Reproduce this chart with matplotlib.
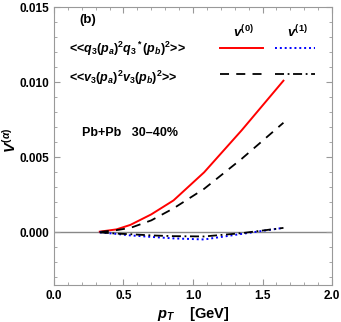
import matplotlib.pyplot as plt
from matplotlib.ticker import MultipleLocator

plt.rcParams['font.family'] = ['Liberation Sans', 'DejaVu Sans']
plt.rcParams['font.weight'] = 'bold'
plt.rcParams['axes.labelweight'] = 'bold'
plt.rcParams['mathtext.fontset'] = 'custom'
plt.rcParams['mathtext.it'] = 'Liberation Sans:italic:bold'
plt.rcParams['mathtext.rm'] = 'Liberation Sans:bold'
plt.rcParams['mathtext.bf'] = 'Liberation Sans:bold'

# pT points (GeV)
pt = [0.33, 0.45, 0.55, 0.70, 0.86, 1.08, 1.35, 1.65]
# <<q3^2 q3*^2>>, V(0) and V(1)
q_v0 = [0.00005, 0.0002, 0.0005, 0.0012, 0.00213, 0.0040, 0.0068, 0.0101]
q_v1 = [0.0, -0.0001, -0.0002, -0.0003, -0.0004, -0.00047, -0.0001, 0.0003]
# <<v3^2 v3^2>>, V(0) and V(1)
v_v0 = [0.00003, 0.00015, 0.0003, 0.0008, 0.0016, 0.0029, 0.0049, 0.0073]
v_v1 = [0.0, -0.00008, -0.00012, -0.0002, -0.00025, -0.00027, -0.00005, 0.0003]

fig = plt.figure(figsize=(3.41, 3.22), dpi=100)
ax = fig.add_axes([0.158, 0.115, 0.816, 0.863])

ax.axhline(0, color='#888888', lw=1.0, zorder=1)
ax.plot(pt, q_v0, color='red', lw=1.4)
ax.plot(pt, v_v0, color='black', lw=1.3, dashes=(5, 4))
ax.plot(pt, q_v1, color='blue', lw=1.4, ls=(0, (1, 1.5)))
ax.plot(pt, v_v1, color='black', lw=1.3, ls=(0, (5, 2, 1, 2)))

ax.set_xlim(0, 2.0)
ax.set_ylim(-0.0035, 0.015)
ax.xaxis.set_minor_locator(MultipleLocator(0.1))
ax.yaxis.set_minor_locator(MultipleLocator(0.001))
ax.set_xticks([0.0, 0.5, 1.0, 1.5, 2.0])
ax.set_xticklabels(['0.0', '0.5', '1.0', '1.5', '2.0'])
ax.set_yticks([0.0, 0.005, 0.010, 0.015])
ax.set_yticklabels(['0.000', '0.005', '0.010', '0.015'])
ax.tick_params(which='both', direction='in', top=True, right=True,
               color='#999999', labelsize=8.5)
ax.tick_params(which='major', length=4)
ax.tick_params(which='minor', length=2)
for s in ax.spines.values():
    s.set_color('#999999')

ax.set_xlabel(r'$p_T$    [GeV]', fontsize=10.5, labelpad=2)
ax.set_ylabel(r'$V^{(\alpha)}$', fontsize=10.5)
ax.yaxis.set_label_coords(-0.125, 0.52)

# legend drawn by hand like the original
tr = ax.transAxes
ax.text(0.09, 0.953, '(b)', transform=tr, fontsize=9.5, va='center')
ax.text(0.68, 0.912, r'$v^{(0)}$', transform=tr, fontsize=9.5, va='center', ha='center')
ax.text(0.874, 0.912, r'$v^{(1)}$', transform=tr, fontsize=9.5, va='center', ha='center')
ax.text(0.055, 0.85, r'<<$q_3(p_a)^2q_3{}^*(p_b)^2$>>', transform=tr, fontsize=9, va='center')
ax.text(0.055, 0.745, r'<<$v_3(p_a)^2v_3(p_b)^2$>>', transform=tr, fontsize=9, va='center')
ax.plot([0.597, 0.752], [0.853, 0.853], transform=tr, color='red', lw=1.4)
ax.plot([0.795, 0.94], [0.853, 0.853], transform=tr, color='blue', lw=1.4, ls=(0, (1, 1.5)))
ax.plot([0.597, 0.752], [0.76, 0.76], transform=tr, color='black', lw=1.3, dashes=(5, 4))
ax.plot([0.795, 0.94], [0.76, 0.76], transform=tr, color='black', lw=1.3, ls=(0, (5, 2, 1, 2)))
ax.text(0.1, 0.547, 'Pb+Pb   30\u201340%', transform=tr, fontsize=9, va='center')

fig.savefig('out.png', dpi=100)
